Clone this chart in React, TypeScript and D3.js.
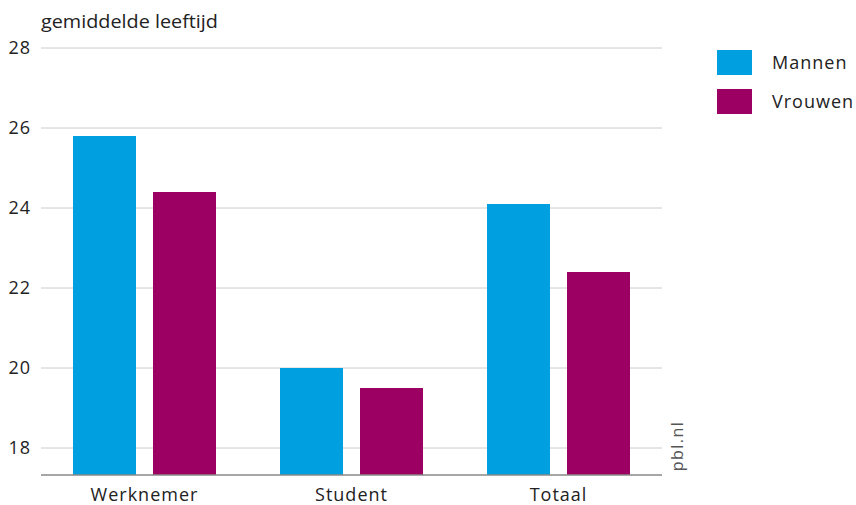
import React from "react";
import * as d3 from "d3";

const categories = ["Werknemer", "Student", "Totaal"];
const seriesNames = ["Mannen", "Vrouwen"];
const mannen = [25.8, 20.0, 24.1];
const vrouwen = [24.4, 19.5, 22.4];
const yTicks = [18, 20, 22, 24, 26, 28];
const colors = ["#009FDF", "#9C0062"];

const W = 856, H = 505;
const left = 41, right = 662, top = 48, bottom = 475;
const FONT = "'Open Sans', Lato, sans-serif";

export default function App() {
  const y = d3.scaleLinear().domain([17.325, 28]).range([bottom, top]);
  const x0 = d3.scaleBand().domain(categories).range([left, right]).paddingInner(0).paddingOuter(0);
  const x1 = d3.scaleBand().domain(seriesNames).range([32, 175]).paddingInner(17 / 80).paddingOuter(0);
  const series = [mannen, vrouwen];
  return (
    <svg width={W} height={H} style={{ position: "absolute", left: 0, top: 0 }} fontFamily={FONT}>
      <text x={41} y={28} fontSize={18} fill="#222" textLength={177} lengthAdjust="spacingAndGlyphs">gemiddelde leeftijd</text>
      {yTicks.map((t) => (
        <g key={t}>
          <line x1={left} x2={right} y1={y(t)} y2={y(t)} stroke="#cccccc" strokeWidth={1} />
          <text x={31} y={y(t)} dy="0.35em" textAnchor="end" fontSize={18} letterSpacing={1} fill="#222">{t}</text>
        </g>
      ))}
      {categories.map((c, i) => (
        <g key={c} transform={`translate(${x0(c)},0)`}>
          {seriesNames.map((s, j) => (
            <rect key={s} x={x1(s)} width={x1.bandwidth()} y={y(series[j][i])}
              height={bottom - y(series[j][i])} fill={colors[j]} />
          ))}
          <text x={x0.bandwidth() / 2} y={501} textAnchor="middle" fontSize={18} letterSpacing={1} fill="#222">{c}</text>
        </g>
      ))}
      <line x1={left} x2={right} y1={bottom} y2={bottom} stroke="#888" strokeWidth={1.5} />
      <text transform={`translate(683,446) rotate(-90)`} textAnchor="middle" fontSize={16} letterSpacing={1.5} fill="#555">pbl.nl</text>
      {seriesNames.map((s, j) => (
        <g key={s} transform={`translate(717,${50 + j * 39})`}>
          <rect width={35} height={25} fill={colors[j]} />
          <text x={55} y={12.5} dy="0.35em" fontSize={18} letterSpacing={1} fill="#222">{s}</text>
        </g>
      ))}
    </svg>
  );
}
